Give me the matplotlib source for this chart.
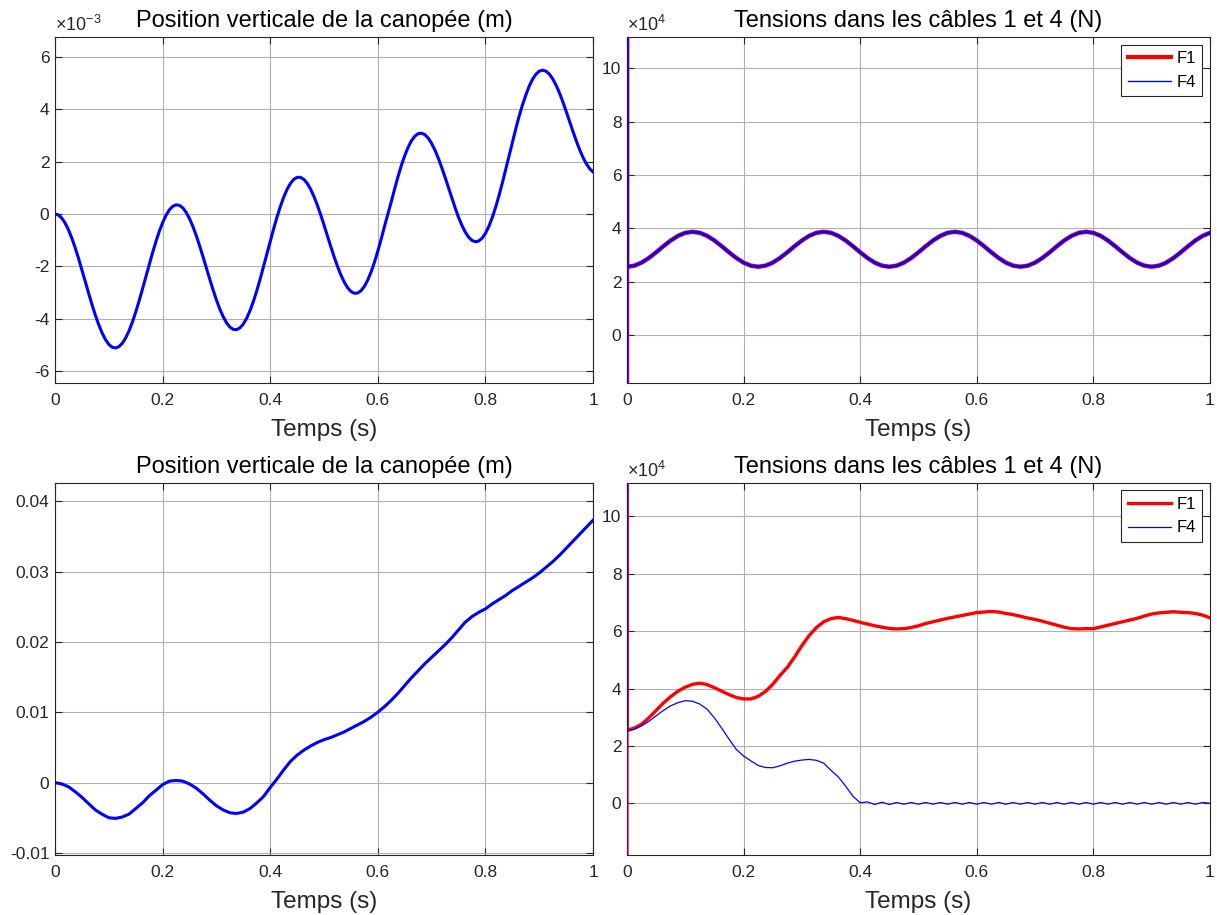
import numpy as np
import matplotlib
matplotlib.use("Agg")
import matplotlib.pyplot as plt
from matplotlib.ticker import FuncFormatter

plt.rcParams['font.family'] = ['Liberation Sans', 'DejaVu Sans']
plt.rcParams['mathtext.fontset'] = 'custom'
plt.rcParams['mathtext.rm'] = 'Liberation Sans'

# temps (s)
t = np.linspace(0, 1, 81)       # pas 0.0125 s
t_fin = np.linspace(0, 1, 161)  # pas 0.00625 s

# position verticale, cas 1 (x 1e-3 m), pas fin
pos1 = [0.000, -0.039, -0.155, -0.346, -0.604, -0.921, -1.290, -1.698, -2.131, -2.578,
        -3.025, -3.456, -3.861, -4.226, -4.539, -4.791, -4.975, -5.083, -5.113, -5.064,
        -4.936, -4.733, -4.462, -4.129, -3.745, -3.321, -2.870, -2.403, -1.937, -1.484,
        -1.057, -0.669, -0.332, -0.054, 0.156, 0.291, 0.349, 0.330, 0.233, 0.062,
        -0.177, -0.475, -0.825, -1.213, -1.626, -2.054, -2.482, -2.894, -3.279, -3.625,
        -3.918, -4.151, -4.315, -4.404, -4.414, -4.346, -4.199, -3.976, -3.685, -3.334,
        -2.930, -2.486, -2.016, -1.530, -1.044, -0.572, -0.126, 0.282, 0.638, 0.935,
        1.165, 1.320, 1.397, 1.397, 1.320, 1.168, 0.949, 0.670, 0.340, -0.029,
        -0.423, -0.832, -1.240, -1.632, -1.998, -2.325, -2.598, -2.812, -2.957, -3.026,
        -3.017, -2.929, -2.763, -2.521, -2.211, -1.840, -1.416, -0.953, -0.464, 0.001,
        0.467, 0.958, 1.424, 1.851, 2.227, 2.543, 2.792, 2.967, 3.063, 3.083,
        3.025, 2.893, 2.693, 2.433, 2.122, 1.773, 1.398, 1.009, 0.621, 0.232,
        -0.129, -0.436, -0.691, -0.885, -1.010, -1.060, -1.032, -0.924, -0.739, -0.477,
        -0.147, 0.243, 0.686, 1.168, 1.677, 2.202, 2.727, 3.237, 3.722, 4.154,
        4.534, 4.870, 5.138, 5.332, 5.448, 5.487, 5.449, 5.336, 5.155, 4.915,
        4.624, 4.284, 3.918, 3.539, 3.160, 2.796, 2.459, 2.161, 1.916, 1.726,
        1.605]

# tensions cas 1 (x 1e4 N), F1 et F4 confondues
F_cas1 = [2.560, 2.599, 2.713, 2.888, 3.101, 3.329, 3.543, 3.717, 3.831, 3.870,
          3.831, 3.717, 3.543, 3.329, 3.101, 2.888, 2.713, 2.599,
          2.560, 2.599, 2.713, 2.888, 3.101, 3.329, 3.543, 3.717, 3.831, 3.870,
          3.831, 3.717, 3.543, 3.329, 3.101, 2.888, 2.713, 2.599,
          2.560, 2.599, 2.713, 2.888, 3.101, 3.329, 3.543, 3.717, 3.831, 3.870,
          3.831, 3.717, 3.543, 3.329, 3.101, 2.888, 2.713, 2.599,
          2.560, 2.599, 2.713, 2.888, 3.101, 3.329, 3.543, 3.717, 3.831, 3.870,
          3.831, 3.717, 3.543, 3.329, 3.101, 2.888, 2.713, 2.599,
          2.560, 2.599, 2.713, 2.888, 3.101, 3.329, 3.543, 3.717, 3.831]

# position verticale, cas 2 (m)
pos2 = [0.0, -0.0002, -0.0006, -0.0013, -0.0021, -0.0030, -0.0039, -0.0045, -0.0050, -0.0051,
        -0.0049, -0.0045, -0.0037, -0.0029, -0.0019, -0.0011, -0.0003, 0.0002, 0.0003, 0.0002,
        -0.0002, -0.0008, -0.0016, -0.0025, -0.0033, -0.0039, -0.0043, -0.0044, -0.0042, -0.0037,
        -0.0029, -0.0020, -0.0007, 0.0005, 0.0018, 0.0030, 0.0039, 0.0046, 0.0052, 0.0057,
        0.0061, 0.0064, 0.0068, 0.0072, 0.0077, 0.0082, 0.0087, 0.0093, 0.0100, 0.0108,
        0.0117, 0.0127, 0.0138, 0.0149, 0.0159, 0.0169, 0.0178, 0.0187, 0.0196, 0.0206,
        0.0217, 0.0228, 0.0236, 0.0242, 0.0247, 0.0254, 0.0260, 0.0266, 0.0273, 0.0279,
        0.0285, 0.0291, 0.0298, 0.0306, 0.0314, 0.0323, 0.0333, 0.0343, 0.0353, 0.0363, 0.0373]

# tensions cas 2 (x 1e4 N)
F1_cas2 = [2.55, 2.62, 2.76, 2.98, 3.24, 3.50, 3.72, 3.91, 4.05, 4.15,
           4.19, 4.14, 4.03, 3.91, 3.79, 3.69, 3.64, 3.64, 3.73, 3.90,
           4.15, 4.46, 4.74, 5.10, 5.50, 5.85, 6.13, 6.33, 6.44, 6.48,
           6.44, 6.38, 6.31, 6.25, 6.19, 6.14, 6.10, 6.08, 6.09, 6.13,
           6.19, 6.27, 6.33, 6.39, 6.45, 6.50, 6.55, 6.60, 6.65, 6.67,
           6.69, 6.67, 6.62, 6.58, 6.52, 6.46, 6.41, 6.35, 6.28, 6.21,
           6.14, 6.09, 6.08, 6.09, 6.09, 6.15, 6.21, 6.27, 6.33, 6.39,
           6.45, 6.53, 6.60, 6.64, 6.66, 6.68, 6.66, 6.65, 6.62, 6.56, 6.47]
F4_cas2 = [2.52, 2.58, 2.70, 2.86, 3.05, 3.24, 3.40, 3.51, 3.58, 3.56,
           3.46, 3.28, 2.98, 2.62, 2.24, 1.88, 1.65, 1.48, 1.32, 1.25,
           1.24, 1.31, 1.40, 1.47, 1.51, 1.53, 1.50, 1.40, 1.15, 0.92,
           0.60, 0.25, 0.02, 0.05, -0.04, 0.04, -0.04, 0.03, -0.03, 0.03,
           -0.03, 0.03, -0.03, 0.03, -0.03, 0.03, -0.03, 0.03, -0.03, 0.03,
           -0.03, 0.03, -0.03, 0.03, -0.03, 0.03, -0.03, 0.03, -0.03, 0.03,
           -0.03, 0.03, -0.03, 0.03, -0.03, 0.03, -0.03, 0.03, -0.03, 0.03,
           -0.03, 0.03, -0.03, 0.03, -0.03, 0.03, -0.03, 0.03, -0.03, 0.03, 0.00]

# pic initial a t = 0 (x 1e4 N)
t_pic = [0, 0]
F_pic = [-2.5, 12.0]

ylim_F = (-1.8, 11.17)


def style(ax, yticks, ylim):
    ax.set_xlim(0, 1)
    ax.set_ylim(*ylim)
    ax.set_xticks([0, 0.2, 0.4, 0.6, 0.8, 1])
    ax.set_yticks(yticks)
    fmt = FuncFormatter(lambda v, p: f"{v:g}")
    ax.xaxis.set_major_formatter(fmt)
    ax.yaxis.set_major_formatter(fmt)
    ax.tick_params(direction='in', top=True, right=True, length=5, width=0.8,
                   labelsize=12.5, colors='#262626')
    ax.tick_params(axis='x', pad=7)
    ax.tick_params(axis='y', pad=4)
    for s in ax.spines.values():
        s.set_color('#262626')
        s.set_linewidth(0.8)
    ax.grid(True, color='#b0b0b0', linewidth=0.8)
    ax.set_axisbelow(True)
    ax.set_xlabel('Temps (s)', fontsize=17.5, color='#262626', labelpad=8)


def legende(ax):
    leg = ax.legend(loc='upper right', fontsize=12, fancybox=False, framealpha=1,
                    edgecolor='#262626', handlelength=2.6, handletextpad=0.3,
                    borderaxespad=0.45)
    leg.get_frame().set_linewidth(0.8)
    return leg


fig = plt.figure(figsize=(12.17, 9.15), dpi=100)

ax1 = fig.add_axes([0.0452, 0.5814, 0.4421, 0.3781])
ax2 = fig.add_axes([0.5152, 0.5814, 0.4790, 0.3781])
ax3 = fig.add_axes([0.0452, 0.0656, 0.4421, 0.4066])
ax4 = fig.add_axes([0.5152, 0.0656, 0.4790, 0.4066])

# haut gauche
ax1.plot(t_fin, pos1, color='blue', lw=2.2, zorder=3, solid_joinstyle='round')
style(ax1, [-6, -4, -2, 0, 2, 4, 6], (-6.45, 6.75))
ax1.set_title('Position verticale de la canopée (m)', fontsize=17, pad=7)
ax1.text(0, 1.006, r'$\mathregular{\times10^{-3}}$', transform=ax1.transAxes,
         ha='left', va='bottom', fontsize=13, color='#262626')

# haut droite
ax2.plot(t_pic + list(t), F_pic + F_cas1, color='red', lw=3.2, label='F1', zorder=3)
ax2.plot(t_pic + list(t), F_pic + F_cas1, color='blue', lw=2.0, label='F4', zorder=3)
style(ax2, [0, 2, 4, 6, 8, 10], ylim_F)
ax2.set_title('Tensions dans les câbles 1 et 4 (N)', fontsize=17, pad=7)
ax2.text(0, 1.006, r'$\mathregular{\times10^{4}}$', transform=ax2.transAxes,
         ha='left', va='bottom', fontsize=13, color='#262626')
leg = legende(ax2)
leg.get_lines()[0].set_linewidth(3)
leg.get_lines()[1].set_linewidth(1)

# bas gauche
ax3.plot(t, pos2, color='blue', lw=2.2, zorder=3, solid_joinstyle='round')
style(ax3, [-0.01, 0, 0.01, 0.02, 0.03, 0.04], (-0.0103, 0.0426))
ax3.set_title('Position verticale de la canopée (m)', fontsize=17, pad=7)

# bas droite
ax4.plot(t_pic + list(t), F_pic + F1_cas2, color='red', lw=2.4, label='F1', zorder=3)
ax4.plot(t_pic + list(t), F_pic + F4_cas2, color='blue', lw=0.9, label='F4', zorder=3)
style(ax4, [0, 2, 4, 6, 8, 10], ylim_F)
ax4.set_title('Tensions dans les câbles 1 et 4 (N)', fontsize=17, pad=7)
ax4.text(0, 1.006, r'$\mathregular{\times10^{4}}$', transform=ax4.transAxes,
         ha='left', va='bottom', fontsize=13, color='#262626')
legende(ax4)

fig.savefig('out.png', dpi=100)
